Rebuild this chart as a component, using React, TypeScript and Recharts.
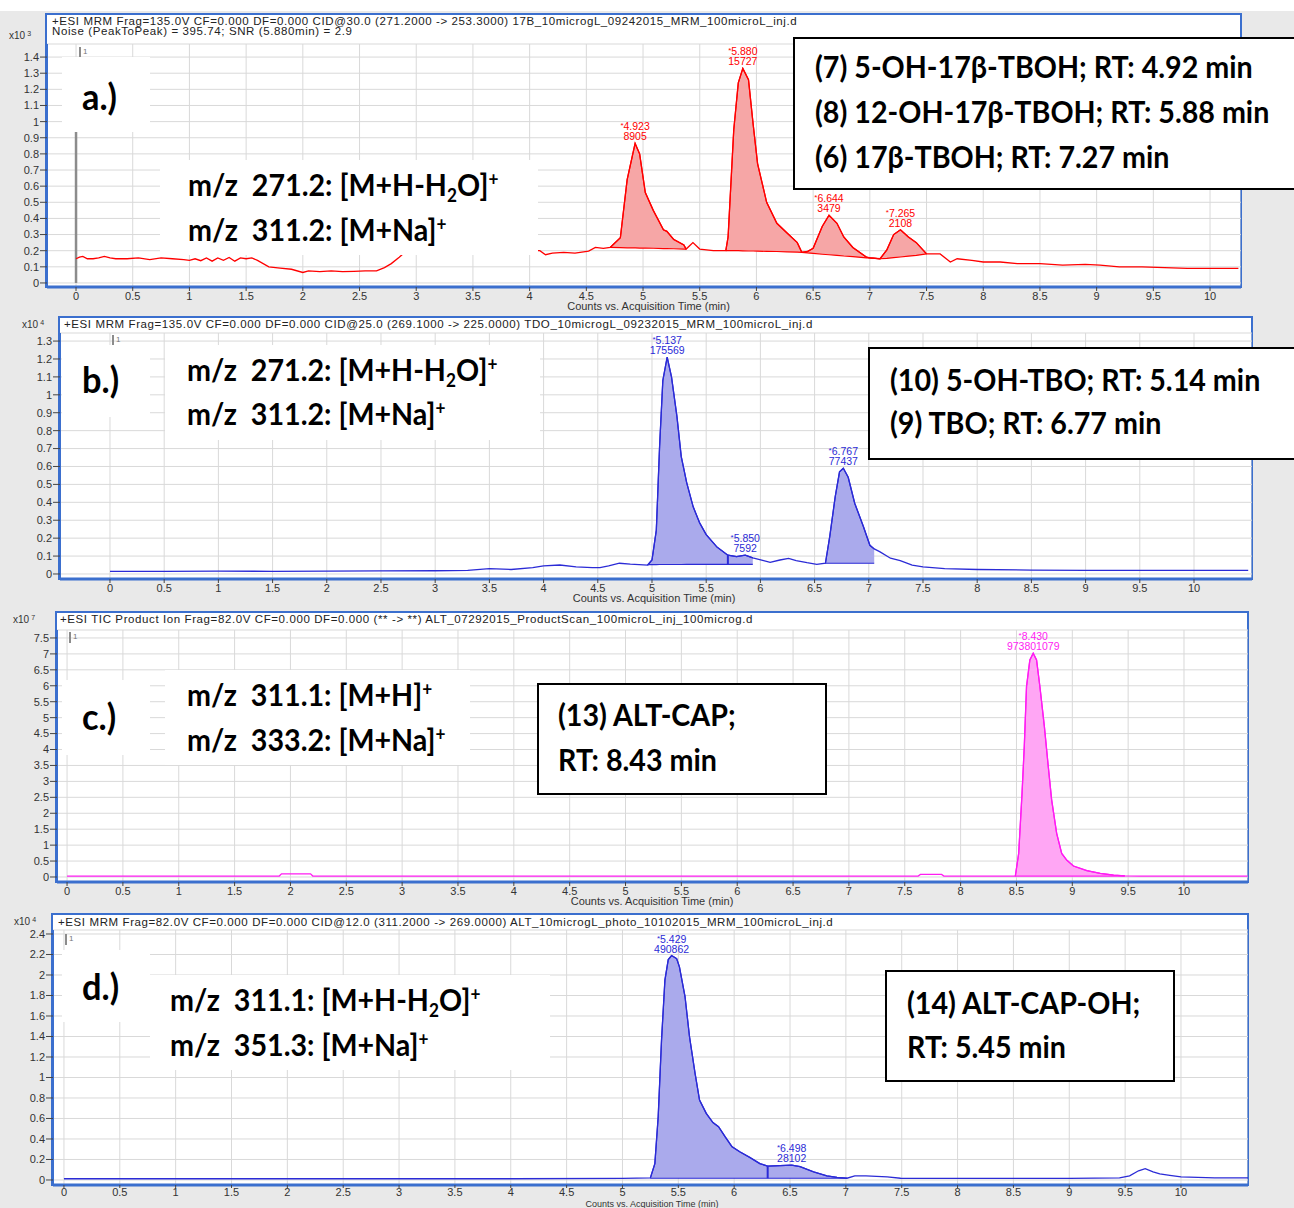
import React from "react";
import {
  ComposedChart,
  Line,
  Area,
  Scatter,
  XAxis,
  YAxis,
  CartesianGrid,
  ReferenceLine,
} from "recharts";

// shared x ticks (acquisition time, min)
const xTicks = [0, 0.5, 1, 1.5, 2, 2.5, 3, 3.5, 4, 4.5, 5, 5.5, 6, 6.5, 7, 7.5, 8, 8.5, 9, 9.5, 10];

// ---- a.) 17B, counts x10^3
const yTicksA = [0, 0.1, 0.2, 0.3, 0.4, 0.5, 0.6, 0.7, 0.8, 0.9, 1, 1.1, 1.2, 1.3, 1.4];
const timeA = [
  0, 0.03, 0.06, 0.1, 0.15, 0.2, 0.25, 0.3, 0.35, 0.45,
  0.55, 0.65, 0.75, 0.85, 0.95, 1.0, 1.05, 1.1, 1.15, 1.2,
  1.25, 1.3, 1.35, 1.4, 1.45, 1.5, 1.55, 1.6, 1.7, 1.8,
  1.9, 2.0, 2.05, 2.15, 2.25, 2.35, 2.45, 2.55, 2.65, 2.72,
  2.78, 2.85, 2.9, 3.0, 3.5, 4.0, 4.09, 4.14, 4.2, 4.3,
  4.4, 4.52, 4.58, 4.65, 4.71, 4.8, 4.86, 4.93, 4.97, 5.02,
  5.09, 5.18, 5.21, 5.27, 5.36, 5.38, 5.44, 5.5, 5.62, 5.73,
  5.75, 5.8, 5.84, 5.88, 5.93, 5.97, 6.01, 6.09, 6.18, 6.27,
  6.36, 6.4, 6.45, 6.5, 6.58, 6.64, 6.71, 6.77, 6.85, 6.97,
  7.0, 7.09, 7.15, 7.21, 7.27, 7.34, 7.41, 7.5, 7.62, 7.71,
  7.77, 7.9, 8.0, 8.15, 8.3, 8.5, 8.7, 8.9, 9.03, 9.2,
  9.4, 9.6, 9.8, 10.0, 10.25,
];
const countA = [
  0.15, 0.16, 0.165, 0.15, 0.15, 0.155, 0.165, 0.155, 0.15, 0.15,
  0.155, 0.145, 0.155, 0.15, 0.145, 0.14, 0.15, 0.138, 0.155, 0.135,
  0.155, 0.14, 0.158, 0.135, 0.155, 0.15, 0.155, 0.14, 0.1, 0.092,
  0.085, 0.065, 0.075, 0.07, 0.075, 0.07, 0.072, 0.075, 0.075, 0.095,
  0.12, 0.16, 0.19, 0.2, 0.21, 0.2, 0.2, 0.175, 0.185, 0.19,
  0.185, 0.197, 0.22, 0.215, 0.22, 0.28, 0.64, 0.865, 0.8, 0.56,
  0.45, 0.33, 0.32, 0.27, 0.235, 0.21, 0.25, 0.21, 0.2, 0.2,
  0.285, 0.95, 1.24, 1.33, 1.26, 0.99, 0.74, 0.5, 0.37, 0.31,
  0.25, 0.19, 0.195, 0.215, 0.35, 0.42, 0.37, 0.285, 0.22, 0.16,
  0.155, 0.15, 0.205, 0.3, 0.33, 0.285, 0.25, 0.18, 0.18, 0.13,
  0.15, 0.14, 0.13, 0.13, 0.12, 0.12, 0.11, 0.115, 0.11, 0.1,
  0.1, 0.095, 0.09, 0.09, 0.09,
];
const baseA = [
  null, null, null, null, null, null, null, null, null, null,
  null, null, null, null, null, null, null, null, null, null,
  null, null, null, null, null, null, null, null, null, null,
  null, null, null, null, null, null, null, null, null, null,
  null, null, null, null, null, null, null, null, null, null,
  null, null, null, null, 0.22, 0.219, 0.218, 0.217, 0.216, 0.216,
  0.215, 0.213, 0.213, 0.212, 0.21, 0.21, null, null, null, 0.2,
  0.2, 0.2, 0.2, 0.199, 0.198, 0.198, 0.197, 0.196, 0.195, 0.193,
  0.191, 0.19, 0.186, 0.183, 0.178, 0.175, 0.171, 0.167, 0.163, 0.156,
  0.155, 0.15, 0.153, 0.157, 0.161, 0.166, 0.171, 0.18, null, null,
  null, null, null, null, null, null, null, null, null, null,
  null, null, null, null, null,
];
const peakTimeA = [4.93, 5.88, 6.64, 7.27];
const peakCountA = [0.865, 1.33, 0.42, 0.33];
const peakRtA = ["4.923", "5.880", "6.644", "7.265"];
const peakAreaA = ["8905", "15727", "3479", "2108"];

// ---- b.) TDO, counts x10^4
const yTicksB = [0, 0.1, 0.2, 0.3, 0.4, 0.5, 0.6, 0.7, 0.8, 0.9, 1, 1.1, 1.2, 1.3];
const timeB = [
  0, 0.5, 1, 1.5, 2, 2.5, 3, 3.3, 3.5, 3.7,
  3.9, 4.0, 4.15, 4.3, 4.45, 4.52, 4.6, 4.7, 4.8, 4.96,
  5.0, 5.04, 5.07, 5.1, 5.14, 5.18, 5.23, 5.27, 5.32, 5.38,
  5.44, 5.5, 5.6, 5.7, 5.78, 5.86, 5.93, 6.03, 6.09, 6.18,
  6.26, 6.33, 6.43, 6.52, 6.6, 6.64, 6.69, 6.73, 6.765, 6.81,
  6.87, 6.95, 7.01, 7.05, 7.1, 7.2, 7.29, 7.4, 7.5, 7.7,
  8.0, 8.5, 9.0, 9.5, 10.0, 10.5,
];
const countB = [
  0.015, 0.015, 0.016, 0.015, 0.016, 0.017, 0.018, 0.02, 0.03, 0.025,
  0.035, 0.045, 0.05, 0.04, 0.035, 0.035, 0.045, 0.06, 0.055, 0.05,
  0.078, 0.245, 0.71, 1.08, 1.21, 1.1, 0.88, 0.655, 0.51, 0.375,
  0.285, 0.22, 0.15, 0.105, 0.097, 0.105, 0.09, 0.075, 0.065, 0.078,
  0.087, 0.075, 0.063, 0.054, 0.06, 0.21, 0.43, 0.57, 0.59, 0.54,
  0.395, 0.265, 0.16, 0.14, 0.125, 0.088, 0.075, 0.05, 0.04, 0.03,
  0.025, 0.022, 0.02, 0.02, 0.02, 0.02,
];
const baseB = [
  null, null, null, null, null, null, null, null, null, null,
  null, null, null, null, null, null, null, null, null, 0.052,
  0.052, 0.052, 0.053, 0.053, 0.053, 0.053, 0.053, 0.053, 0.054, 0.054,
  0.054, 0.054, 0.054, 0.054, 0.054, 0.054, 0.054, null, null, null,
  null, null, null, null, 0.06, 0.06, 0.06, 0.06, 0.06, 0.06,
  0.06, 0.06, 0.06, 0.06, null, null, null, null, null, null,
  null, null, null, null, null, null,
];
const peakTimeB = [5.14, 5.86, 6.765];
const peakCountB = [1.21, 0.105, 0.59];
const peakRtB = ["5.137", "5.850", "6.767"];
const peakAreaB = ["175569", "7592", "77437"];
const splitTimeB = 5.7;
const splitLowB = 0.054;
const splitHighB = 0.105;

// ---- c.) ALT product scan TIC, counts x10^7
const yTicksC = [0, 0.5, 1, 1.5, 2, 2.5, 3, 3.5, 4, 4.5, 5, 5.5, 6, 6.5, 7, 7.5];
const timeC = [
  0, 1.0, 1.9, 1.92, 2.18, 2.2, 3.0, 5.0, 7.0, 7.62,
  7.64, 7.83, 7.85, 8.2, 8.49, 8.52, 8.55, 8.57, 8.59, 8.62,
  8.65, 8.68, 8.71, 8.75, 8.785, 8.815, 8.86, 8.905, 8.95, 9.01,
  9.13, 9.25, 9.37, 9.47, 9.6, 10.0, 10.57,
];
const countC = [
  0.03, 0.03, 0.03, 0.1, 0.1, 0.03, 0.03, 0.03, 0.03, 0.03,
  0.08, 0.08, 0.03, 0.03, 0.03, 0.74, 2.63, 4.09, 5.97, 6.81,
  7.02, 6.81, 5.97, 4.72, 3.46, 2.42, 1.37, 0.74, 0.53, 0.345,
  0.2, 0.115, 0.06, 0.035, 0.03, 0.03, 0.03,
];
const baseC = [
  null, null, null, null, null, null, null, null, null, null,
  null, null, null, null, 0.03, 0.03, 0.03, 0.03, 0.03, 0.03,
  0.03, 0.03, 0.03, 0.03, 0.03, 0.03, 0.03, 0.03, 0.03, 0.03,
  0.03, 0.03, 0.03, 0.03, null, null, null,
];
const peakTimeC = [8.65];
const peakCountC = [7.02];
const peakRtC = ["8.430"];
const peakAreaC = ["973801079"];

// ---- d.) ALT photo, counts x10^4
const yTicksD = [0, 0.2, 0.4, 0.6, 0.8, 1, 1.2, 1.4, 1.6, 1.8, 2, 2.2, 2.4];
const timeD = [
  0, 1, 2, 3, 4, 5, 5.25, 5.29, 5.32, 5.35,
  5.38, 5.41, 5.44, 5.485, 5.51, 5.56, 5.6, 5.65, 5.69, 5.75,
  5.81, 5.86, 5.92, 5.98, 6.05, 6.14, 6.23, 6.3, 6.41, 6.515,
  6.59, 6.71, 6.83, 6.92, 7.01, 7.08, 7.18, 7.37, 7.49, 8.0,
  9.0, 9.45, 9.54, 9.62, 9.68, 9.75, 9.81, 9.9, 10.0, 10.3,
  10.6,
];
const countD = [
  0.012, 0.012, 0.012, 0.012, 0.012, 0.015, 0.02, 0.16, 0.62, 1.37,
  1.95, 2.15, 2.19, 2.16, 2.08, 1.79, 1.4, 1.04, 0.78, 0.65,
  0.56, 0.52, 0.42, 0.325, 0.275, 0.22, 0.16, 0.135, 0.14, 0.145,
  0.13, 0.08, 0.04, 0.025, 0.017, 0.04, 0.04, 0.03, 0.017, 0.015,
  0.015, 0.02, 0.04, 0.09, 0.11, 0.08, 0.06, 0.045, 0.03, 0.02,
  0.02,
];
const baseD = [
  null, null, null, null, null, null, 0.017, 0.017, 0.017, 0.017,
  0.017, 0.017, 0.017, 0.017, 0.017, 0.017, 0.017, 0.017, 0.017, 0.017,
  0.017, 0.017, 0.017, 0.017, 0.017, 0.017, 0.017, 0.017, 0.017, 0.017,
  0.017, 0.017, 0.017, 0.017, 0.017, null, null, null, null, null,
  null, null, null, null, null, null, null, null, null, null,
  null,
];
const peakTimeD = [5.44, 6.515];
const peakCountD = [2.19, 0.145];
const peakRtD = ["5.429", "6.498"];
const peakAreaD = ["490862", "28102"];
const splitTimeD = 6.3;
const splitLowD = 0.017;
const splitHighD = 0.135;

const tickFont = "'Liberation Sans', Arial, sans-serif";
const boldFont = "Lato, 'Liberation Sans Narrow', 'DejaVu Sans Condensed', sans-serif";
const frameBlue = "#3b6fce";
const TOP_PAD = 10;

type Cfg = {
  left: number; frameTop: number; plotTop: number; right: number; bottom: number;
  xDomain: [number, number]; yDomain: [number, number];
  titleGap?: number; titleSize?: number; xTickSize?: number;
};

function makePeakShape(color: string) {
  return (props: any) => {
    const { cx, cy, payload } = props;
    return (
      <g fontFamily={tickFont} fontSize={10.5} fill={color}>
        <text x={cx} y={cy - 13} textAnchor="middle">
          <tspan fontSize={8} dy={-2}>*</tspan>
          <tspan dy={2}>{payload.rt}</tspan>
        </text>
        <text x={cx} y={cy - 3} textAnchor="middle">{payload.area}</text>
      </g>
    );
  };
}

function Chromatogram(p: {
  cfg: Cfg; times: number[]; counts: number[]; bases: (number | null)[];
  yTicks: number[]; peakT: number[]; peakV: number[]; peakRt: string[]; peakArea: string[];
  line: string; fill: string; label: string;
  split?: { t: number; low: number; high: number };
  marker?: boolean;
}) {
  const { cfg } = p;
  const rows = p.times.map((t, i) => ({ t, v: p.counts[i], base: p.bases[i] }));
  const peaks = p.peakT.map((t, i) => ({ t, v: p.peakV[i], rt: p.peakRt[i], area: p.peakArea[i] }));
  const plotH = cfg.bottom - cfg.plotTop;
  return (
    <>
      <div
        style={{
          position: "absolute", left: cfg.left - 2, top: cfg.frameTop,
          width: cfg.right - cfg.left + 3, height: cfg.bottom - cfg.frameTop + 1,
          border: `2px solid ${frameBlue}`, background: "#fff", boxSizing: "border-box",
        }}
      />
      <div style={{ position: "absolute", left: 0, top: cfg.plotTop - TOP_PAD }}>
        <ComposedChart width={cfg.right} height={plotH + 32 + TOP_PAD} data={rows}
          margin={{ top: TOP_PAD, right: 0, bottom: 0, left: 0 }}>
          <CartesianGrid stroke="#d9d9d9" strokeWidth={1} />
          <XAxis type="number" dataKey="t" domain={cfg.xDomain} ticks={xTicks} allowDataOverflow
            interval={0} height={32} tickSize={cfg.xTickSize ?? 4} tickMargin={cfg.xTickSize != null ? 0 : 1}
            axisLine={{ stroke: frameBlue, strokeWidth: 3 }} tickLine={{ stroke: "#444" }}
            tick={{ fontSize: 11, fill: "#333", fontFamily: tickFont }} />
          <YAxis type="number" domain={cfg.yDomain} ticks={p.yTicks} allowDataOverflow interval={0}
            width={cfg.left} tickSize={7} tickMargin={1}
            axisLine={{ stroke: frameBlue, strokeWidth: 2 }} tickLine={{ stroke: "#444" }}
            tick={{ fontSize: 11, fill: "#333", fontFamily: tickFont }} />
          {p.marker && (
            <ReferenceLine segment={[{ x: 0, y: 0 }, { x: 0, y: 0.98 }]} stroke="#8c8c8c" strokeWidth={2.5} />
          )}
          <Area type="linear" dataKey={(d: any) => (d.base == null ? null : [d.base, d.v])}
            stroke={p.line} strokeWidth={1.2} fill={p.fill} fillOpacity={1} isAnimationActive={false} />
          <Line type="linear" dataKey="v" stroke={p.line} strokeWidth={1.3} dot={false}
            isAnimationActive={false} />
          {p.split && (
            <ReferenceLine segment={[{ x: p.split.t, y: p.split.low }, { x: p.split.t, y: p.split.high }]}
              stroke={p.line} strokeWidth={2} />
          )}
          <Scatter data={peaks} dataKey="v" shape={makePeakShape(p.line)} isAnimationActive={false} />
        </ComposedChart>
      </div>
      <div style={{
        position: "absolute", left: 0, width: cfg.right + (cfg.left - 0), top: cfg.bottom + (cfg.titleGap ?? 14),
        textAlign: "center", fontFamily: tickFont, fontSize: cfg.titleSize ?? 11, lineHeight: "10px", color: "#333",
      }}>
        <span style={{ position: "relative", left: -cfg.left / 2 + 28 }}>{p.label}</span>
      </div>
    </>
  );
}

function Abs(props: { x: number; y: number; size: number; children: React.ReactNode; sx?: number }) {
  return (
    <div style={{
      position: "absolute", left: props.x, top: props.y - props.size * 0.62, fontSize: props.size,
      lineHeight: 1.2, fontFamily: boldFont, fontWeight: 700, whiteSpace: "pre", color: "#000",
      transform: `scaleX(${props.sx ?? 0.955})`, transformOrigin: "0 0",
    }}>
      {props.children}
    </div>
  );
}

const Sub = ({ c }: { c: string }) => (
  <span style={{ fontSize: "0.6em", position: "relative", top: "0.3em" }}>{c}</span>
);
const Sup = ({ c }: { c: string }) => (
  <span style={{ fontSize: "0.6em", position: "relative", top: "-0.6em" }}>{c}</span>
);

function WhiteBox(props: { x: number; y: number; w: number; h: number; border?: boolean }) {
  return (
    <div style={{
      position: "absolute", left: props.x, top: props.y, width: props.w, height: props.h,
      background: "#fff", boxSizing: "border-box",
      border: props.border ? "2px solid #000" : "none",
    }} />
  );
}

function Header(props: { x: number; y: number; lines: string[] }) {
  return (
    <div style={{
      position: "absolute", left: props.x, top: props.y, fontFamily: tickFont, fontSize: 11.5,
      letterSpacing: 0.6, lineHeight: "10px", color: "#222", whiteSpace: "pre",
    }}>
      {props.lines.map((l, i) => <div key={i}>{l}</div>)}
    </div>
  );
}

function Scale(props: { x: number; y: number; exp: string }) {
  return (
    <div style={{ position: "absolute", left: props.x, top: props.y, fontFamily: tickFont, fontSize: 10, color: "#333" }}>
      x10<span style={{ fontSize: 7, position: "relative", top: -3, marginLeft: 2 }}>{props.exp}</span>
    </div>
  );
}

// the small "|1" scan marker near the top-left of every trace window
function ScanMark(props: { x: number; y: number }) {
  return (
    <div style={{
      position: "absolute", left: props.x, top: props.y, height: 11, borderLeft: "2px solid #8c8c8c",
      paddingLeft: 2, fontFamily: tickFont, fontSize: 8, lineHeight: "9px", color: "#777",
    }}>1</div>
  );
}

const cfgA: Cfg = { left: 47, frameTop: 13, plotTop: 44, right: 1241, bottom: 287, xDomain: [-0.256, 10.273], yDomain: [-0.025, 1.481] };
const cfgB: Cfg = { left: 60, frameTop: 316, plotTop: 333, right: 1252, bottom: 579, xDomain: [-0.461, 10.535], yDomain: [-0.028, 1.345] };
const cfgC: Cfg = { left: 57, frameTop: 611, plotTop: 630, right: 1248, bottom: 882, xDomain: [-0.09, 10.573], yDomain: [-0.157, 7.75] };
const cfgD: Cfg = {
  left: 53, frameTop: 913, plotTop: 930, right: 1248, bottom: 1185, xDomain: [-0.098, 10.6], yDomain: [-0.049, 2.439],
  titleGap: 14, titleSize: 9, xTickSize: 3,
};

const axisTitle = "Counts vs. Acquisition Time (min)";

export default function App() {
  return (
    <div style={{ position: "absolute", left: 0, top: 0, width: 1294, height: 1208, background: "#e9e9e9", overflow: "hidden" }}>
      <div style={{ position: "absolute", left: 0, top: 0, width: 1294, height: 11, background: "#fff" }} />

      <Chromatogram cfg={cfgA} times={timeA} counts={countA} bases={baseA} yTicks={yTicksA}
        peakT={peakTimeA} peakV={peakCountA} peakRt={peakRtA} peakArea={peakAreaA}
        line="#ff0000" fill="#f6a6a6" label={axisTitle} marker />
      <Chromatogram cfg={cfgB} times={timeB} counts={countB} bases={baseB} yTicks={yTicksB}
        peakT={peakTimeB} peakV={peakCountB} peakRt={peakRtB} peakArea={peakAreaB}
        line="#2b2bd6" fill="#aaaaec" label={axisTitle}
        split={{ t: splitTimeB, low: splitLowB, high: splitHighB }} />
      <Chromatogram cfg={cfgC} times={timeC} counts={countC} bases={baseC} yTicks={yTicksC}
        peakT={peakTimeC} peakV={peakCountC} peakRt={peakRtC} peakArea={peakAreaC}
        line="#ff1cf2" fill="#ffa6f4" label={axisTitle} />
      <Chromatogram cfg={cfgD} times={timeD} counts={countD} bases={baseD} yTicks={yTicksD}
        peakT={peakTimeD} peakV={peakCountD} peakRt={peakRtD} peakArea={peakAreaD}
        line="#2b2bd6" fill="#aaaaec" label={axisTitle}
        split={{ t: splitTimeD, low: splitLowD, high: splitHighD }} />

      <Header x={52} y={16} lines={[
        "+ESI MRM Frag=135.0V CF=0.000 DF=0.000 CID@30.0 (271.2000 -> 253.3000) 17B_10microgL_09242015_MRM_100microL_inj.d",
        "Noise (PeakToPeak) = 395.74; SNR (5.880min) = 2.9",
      ]} />
      <Header x={64} y={319} lines={["+ESI MRM Frag=135.0V CF=0.000 DF=0.000 CID@25.0 (269.1000 -> 225.0000) TDO_10microgL_09232015_MRM_100microL_inj.d"]} />
      <Header x={60} y={614} lines={["+ESI TIC Product Ion Frag=82.0V CF=0.000 DF=0.000 (** -> **) ALT_07292015_ProductScan_100microL_inj_100microg.d"]} />
      <Header x={58} y={917} lines={["+ESI MRM Frag=82.0V CF=0.000 DF=0.000 CID@12.0 (311.2000 -> 269.0000) ALT_10microgL_photo_10102015_MRM_100microL_inj.d"]} />

      <Scale x={9} y={30} exp="3" />
      <Scale x={22} y={319} exp="4" />
      <Scale x={13} y={614} exp="7" />
      <Scale x={14} y={916} exp="4" />

      <ScanMark x={79} y={47} />
      <ScanMark x={112} y={335} />
      <ScanMark x={69} y={632} />
      <ScanMark x={65} y={934} />

      {/* a.) */}
      <WhiteBox x={62} y={57} w={88} h={75} />
      <Abs x={82} y={97} size={36}>a.)</Abs>
      <WhiteBox x={160} y={160} w={378} h={95} />
      <Abs x={188} y={185} size={30}>m/z  271.2: [M+H-H<Sub c="2" />O]<Sup c="+" /></Abs>
      <Abs x={188} y={230} size={30}>m/z  311.2: [M+Na]<Sup c="+" /></Abs>
      <WhiteBox x={793} y={37} w={520} h={153} border />
      <Abs x={815} y={67} size={30}>(7) 5-OH-17β-TBOH; RT: 4.92 min</Abs>
      <Abs x={815} y={112} size={30}>(8) 12-OH-17β-TBOH; RT: 5.88 min</Abs>
      <Abs x={815} y={157} size={30}>(6) 17β-TBOH; RT: 7.27 min</Abs>

      {/* b.) */}
      <WhiteBox x={62} y={345} w={88} h={72} />
      <Abs x={82} y={380} size={36}>b.)</Abs>
      <WhiteBox x={165} y={345} w={375} h={95} />
      <Abs x={187} y={370} size={30}>m/z  271.2: [M+H-H<Sub c="2" />O]<Sup c="+" /></Abs>
      <Abs x={187} y={414} size={30}>m/z  311.2: [M+Na]<Sup c="+" /></Abs>
      <WhiteBox x={868} y={347} w={440} h={113} border />
      <Abs x={890} y={380} size={30}>(10) 5-OH-TBO; RT: 5.14 min</Abs>
      <Abs x={890} y={423} size={30}>(9) TBO; RT: 6.77 min</Abs>

      {/* c.) */}
      <WhiteBox x={62} y={680} w={88} h={75} />
      <Abs x={82} y={717} size={36}>c.)</Abs>
      <WhiteBox x={165} y={670} w={305} h={95} />
      <Abs x={187} y={695} size={30}>m/z  311.1: [M+H]<Sup c="+" /></Abs>
      <Abs x={187} y={740} size={30}>m/z  333.2: [M+Na]<Sup c="+" /></Abs>
      <WhiteBox x={537} y={683} w={290} h={112} border />
      <Abs x={558} y={715} size={30}>(13) ALT-CAP;</Abs>
      <Abs x={558} y={760} size={30}>RT: 8.43 min</Abs>

      {/* d.) */}
      <WhiteBox x={62} y={950} w={88} h={72} />
      <Abs x={82} y={987} size={36}>d.)</Abs>
      <WhiteBox x={150} y={975} w={400} h={95} />
      <Abs x={170} y={1000} size={30}>m/z  311.1: [M+H-H<Sub c="2" />O]<Sup c="+" /></Abs>
      <Abs x={170} y={1045} size={30}>m/z  351.3: [M+Na]<Sup c="+" /></Abs>
      <WhiteBox x={885} y={970} w={290} h={112} border />
      <Abs x={907} y={1003} size={30}>(14) ALT-CAP-OH;</Abs>
      <Abs x={907} y={1047} size={30}>RT: 5.45 min</Abs>
    </div>
  );
}
